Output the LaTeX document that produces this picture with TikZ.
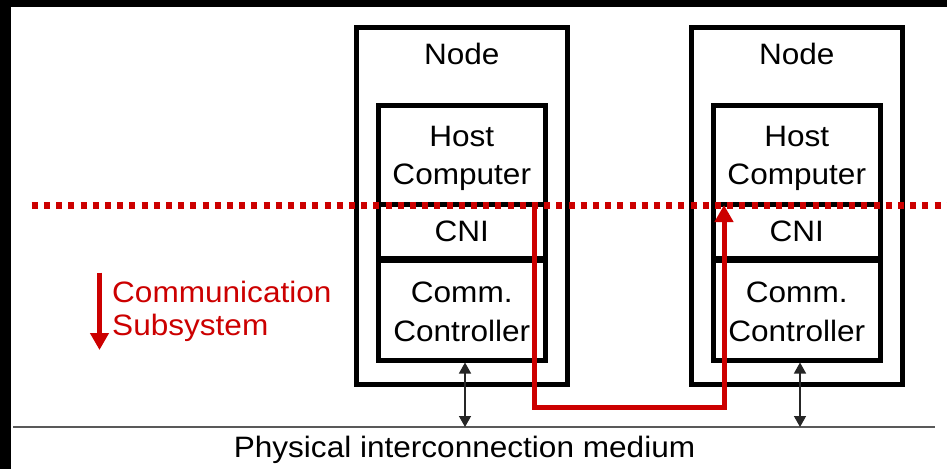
\documentclass[tikz,border=0pt]{standalone}
\usepackage{fontspec}
\setmainfont{Liberation Sans}[FakeStretch=1.07]
\usetikzlibrary{arrows.meta}
\definecolor{cred}{RGB}{204,0,0}
\begin{document}
\begin{tikzpicture}[x=1pt,y=-1pt,
  box/.style={draw=black,line width=5pt,rectangle,inner sep=0pt,outer sep=0pt},
  lbl/.style={font=\fontsize{29.5}{38.5}\selectfont,align=center,inner sep=0pt},
  redlbl/.style={font=\fontsize{29.5}{33}\selectfont,align=left,inner sep=0pt,text=cred},
  dbl/.style={draw=black!85,line width=1.4pt,{Triangle[width=12pt,length=11pt]}-{Triangle[width=12pt,length=11pt]}},
  redpath/.style={draw=cred,line width=5pt,line join=miter,-{Triangle[width=18pt,length=17pt]}},
  dotline/.style={draw=cred,line width=6.5pt,dash pattern=on 6pt off 6.2pt},
  bus/.style={draw=black!65,line width=2pt}]
\useasboundingbox (0,0) rectangle (947,469);
\fill[white] (0,0) rectangle (947,469);
% black frame bars
\fill[black] (0,0) rectangle (947,7);
\fill[black] (0,0) rectangle (11,469);

% left node
\node[box,minimum width=211.5pt,minimum height=357pt] (nodeA) at (461.75,206) {};
\node[lbl,anchor=base] (nodeAl) at (461.75,64.5) {Node};
\node[box,minimum width=166.5pt,minimum height=99pt] (hostA) at (461.75,155) {};
\node[box,minimum width=166.5pt,minimum height=54pt] (cniA) at (461.75,231.5) {};
\node[box,minimum width=166.5pt,minimum height=99.5pt] (commA) at (461.75,310.25) {};
\node[lbl] (hostAl) at (461.75,158.2) {Host\\Computer};
\node[lbl,anchor=base] (cniAl) at (461.75,241.7) {CNI};
\node[lbl] (commAl) at (461.75,311.7) {Comm.\\Controller};

% right node
\node[box,minimum width=211.5pt,minimum height=357pt] (nodeB) at (796.75,206) {};
\node[lbl,anchor=base] (nodeBl) at (796.75,64.5) {Node};
\node[box,minimum width=166.5pt,minimum height=99pt] (hostB) at (796.75,155) {};
\node[box,minimum width=166.5pt,minimum height=54pt] (cniB) at (796.75,231.5) {};
\node[box,minimum width=166.5pt,minimum height=99.5pt] (commB) at (796.75,310.25) {};
\node[lbl] (hostBl) at (796.75,158.2) {Host\\Computer};
\node[lbl,anchor=base] (cniBl) at (796.75,241.7) {CNI};
\node[lbl] (commBl) at (796.75,311.7) {Comm.\\Controller};

% bus
\coordinate (busL) at (13,427);
\coordinate (busR) at (935,427);
\draw[bus] (busL) -- (busR);
\node[lbl,anchor=base] (busl) at (464.5,457.5) {Physical interconnection medium};

% double arrows
\coordinate (aTopA) at ([xshift=3.25pt,yshift=-2.5pt]commA.south);
\coordinate (aTopB) at ([xshift=3.25pt,yshift=-2.5pt]commB.south);
\draw[dbl] (aTopA) -- (aTopA |- busL);
\draw[dbl] (aTopB) -- (aTopB |- busL);

% dotted boundary
\coordinate (dotL) at (31.7,205.5);
\coordinate (dotR) at (947,205.5);
\draw[dotline] (dotL) -- (dotR);

% red message path
\coordinate (rs) at (534.5,205.5);
\coordinate (rb) at (724,407.5);
\coordinate (re) at (724,205);
\draw[redpath] (rs) |- (rb) -- (re);

% communication subsystem label
\coordinate (csT) at (99.5,272.7);
\coordinate (csB) at (99.5,350);
\draw[draw=cred,line width=5pt,-{Triangle[width=18pt,length=17pt]}] (csT) -- (csB);
\node[redlbl,anchor=west] (csl) at (112,311.6) {Communication\\Subsystem};
\end{tikzpicture}
\end{document}
